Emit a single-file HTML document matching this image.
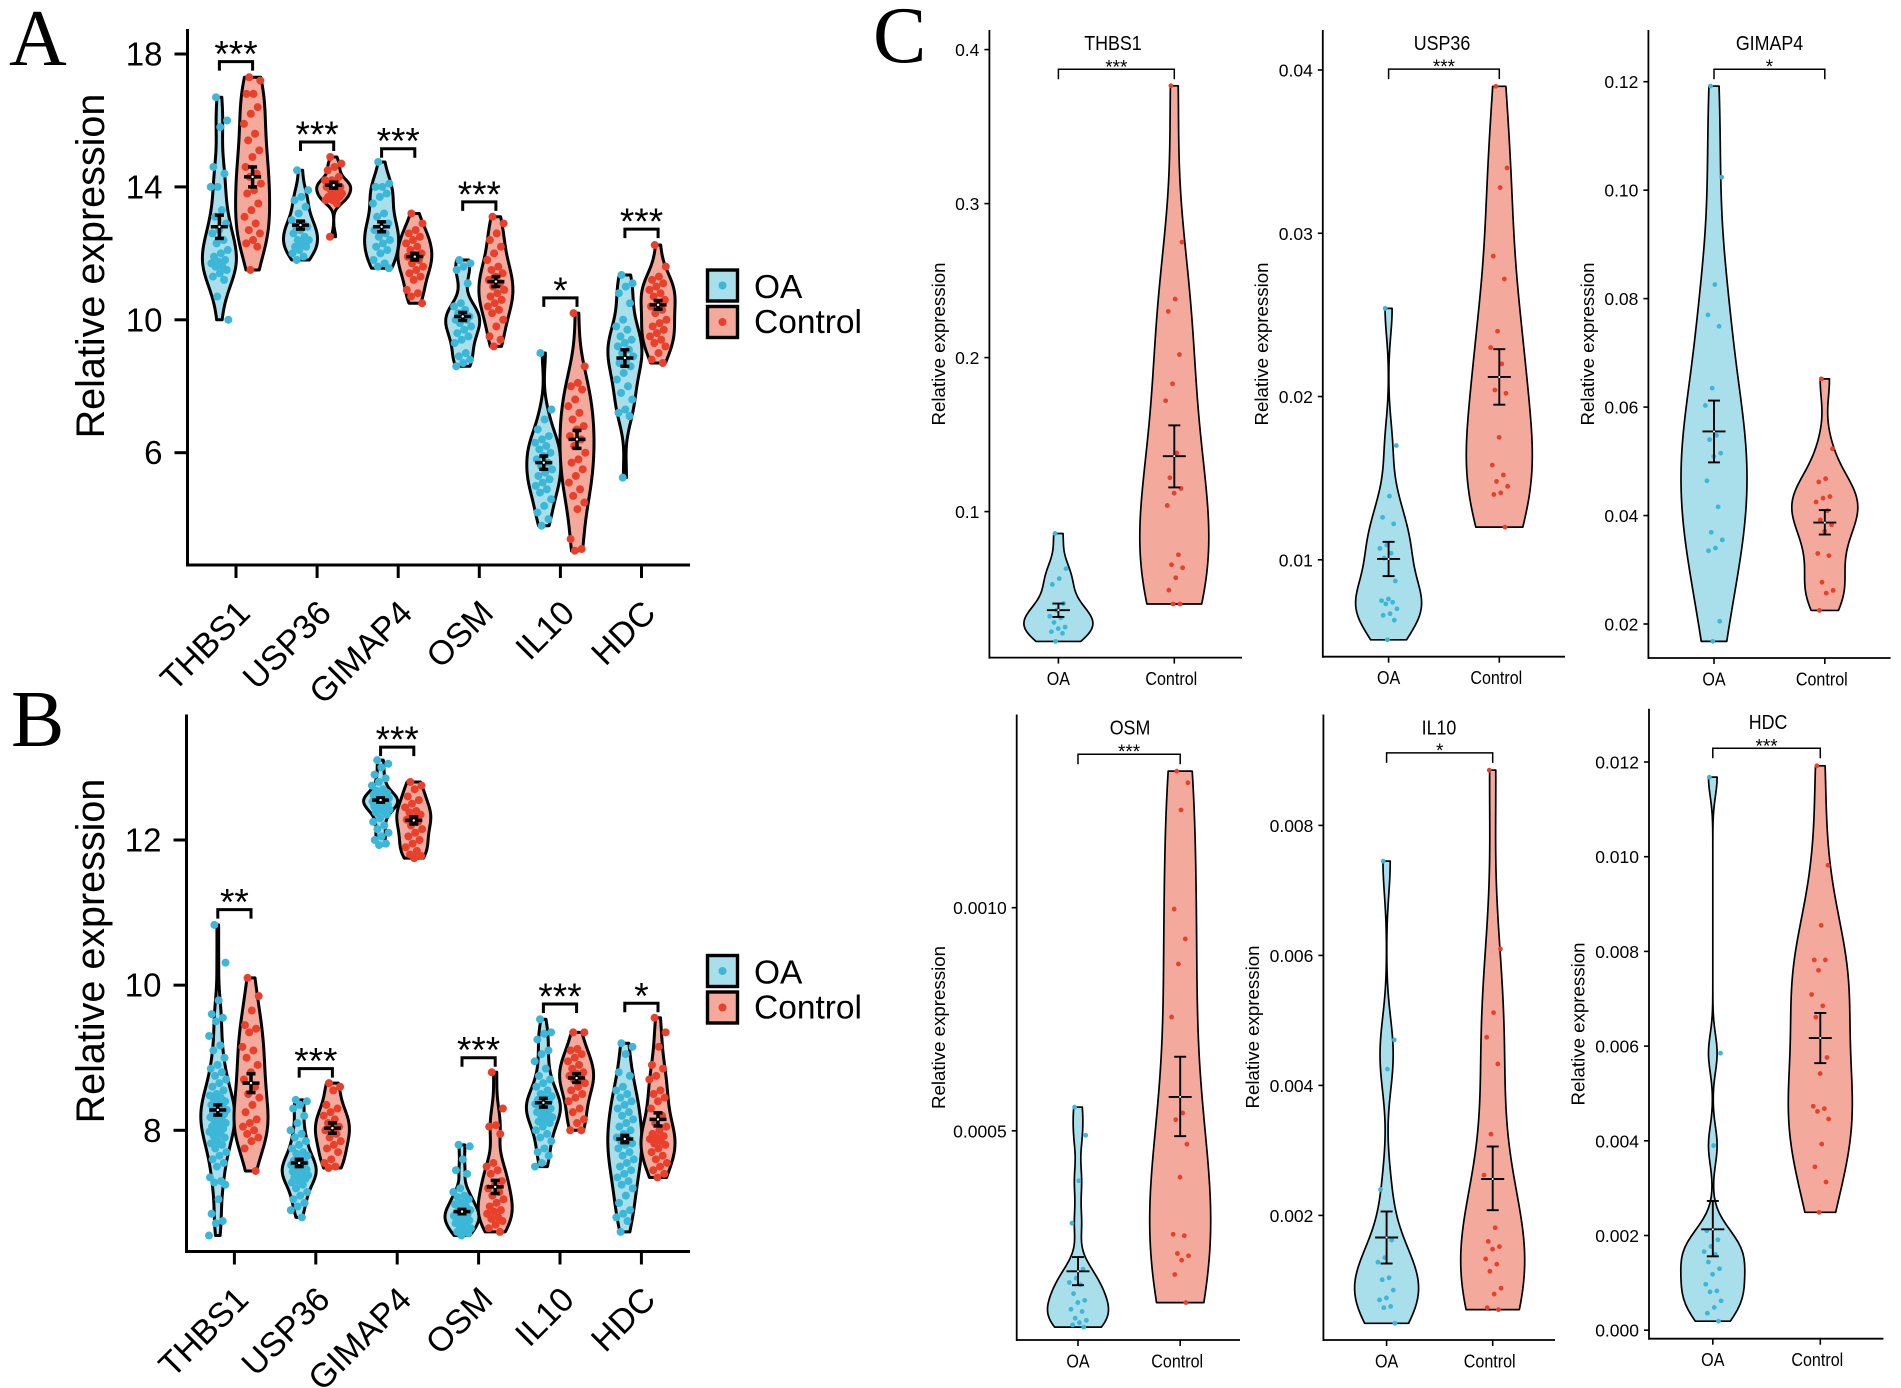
<!DOCTYPE html>
<html lang="en">
<head>
<meta charset="utf-8">
<title>Relative expression violin plots</title>
<style>
html,body{margin:0;padding:0;background:#fff}
svg{display:block;font-family:"Liberation Sans",Arial,sans-serif}
</style>
</head>
<body>
<svg id="figure" xmlns="http://www.w3.org/2000/svg" width="1901" height="1388" viewBox="0 0 1901 1388">
<rect width="1901" height="1388" fill="#fff"/>
<text x="9" y="65" font-family="Liberation Serif" font-size="80">A</text>
<text x="11" y="746" font-family="Liberation Serif" font-size="80">B</text>
<text x="873" y="62" font-family="Liberation Serif" font-size="80">C</text>
</svg>
<script>
// ---------- Shared categories ----------
const genes = ['THBS1','USP36','GIMAP4','OSM','IL10','HDC'];
const groups = ['OA','Control'];

// ---------- Panel A values ----------
const aTicks = [18,14,10,6];
const aOA = [
 [16.7,16.0,15.8,14.6,14.4,14.0,14.0,13.3,13.1,12.9,12.7,12.6,12.4,12.3,12.1,12.0,11.9,11.8,11.75,11.7,11.6,11.6,11.5,11.4,11.3,11.2,10.7,10.0],
 [14.5,13.9,13.7,13.6,13.4,13.2,13.0,12.9,12.8,12.8,12.7,12.6,12.5,12.4,12.4,12.3,12.2,12.2,12.1,12.0,11.9,11.8],
 [14.75,14.1,14.0,14.0,13.8,13.7,13.5,13.2,13.1,12.9,12.8,12.7,12.6,12.5,12.4,12.3,12.2,12.1,12.0,11.8,11.7,11.6,11.55],
 [11.8,11.7,11.6,11.5,11.1,10.5,10.4,10.3,10.2,10.1,10.1,10.0,10.0,9.9,9.8,9.7,9.6,9.5,9.4,9.3,9.0,8.9,8.8,8.7,8.6],
 [9.0,7.3,7.0,6.7,6.5,6.4,6.3,6.2,6.1,6.0,5.9,5.8,5.7,5.6,5.5,5.4,5.3,5.2,5.1,5.0,4.9,4.8,4.6,4.4,4.2,4.0,3.8],
 [11.35,11.1,11.0,10.8,10.5,10.0,9.8,9.7,9.5,9.4,9.3,9.2,9.1,9.0,8.9,8.8,8.7,8.6,8.4,8.2,8.0,7.8,7.6,7.3,7.2,7.1,5.25]
];
const aControl = [
 [17.3,17.2,16.8,16.8,16.4,16.2,15.9,15.6,15.4,15.1,14.9,14.6,14.4,14.3,14.1,13.9,13.8,13.5,13.3,13.1,12.9,12.7,12.6,12.4,12.3,12.2,11.5],
 [14.9,14.7,14.6,14.5,14.3,14.2,14.2,14.1,14.1,14.0,14.0,14.0,13.9,13.9,13.8,13.8,13.7,13.7,13.6,13.6,13.5,12.5],
 [13.2,12.9,12.7,12.6,12.5,12.4,12.3,12.2,12.1,12.0,11.95,11.9,11.8,11.7,11.6,11.5,11.4,11.3,11.2,10.9,10.8,10.7,10.5],
 [13.1,12.9,12.6,12.4,12.2,12.0,11.8,11.6,11.5,11.4,11.3,11.2,11.1,11.0,10.9,10.8,10.7,10.6,10.5,10.4,10.3,10.2,10.0,9.8,9.5,9.4,9.2],
 [10.2,8.6,8.1,8.0,7.9,7.6,7.4,7.2,7.0,6.8,6.7,6.5,6.4,6.2,6.0,5.8,5.7,5.5,5.3,5.1,4.9,4.7,4.5,4.3,3.4,3.1,3.05],
 [12.25,11.6,11.3,11.2,11.1,11.0,10.9,10.8,10.7,10.6,10.5,10.4,10.3,10.2,10.0,9.9,9.8,9.7,9.6,9.5,9.4,9.3,9.2,9.0,8.8,8.7]
];
const aMeanOA = [12.8,12.85,12.8,10.1,5.7,8.85];
const aSeOA = [0.35,0.12,0.15,0.12,0.2,0.25];
const aMeanControl = [14.3,14.05,11.9,11.15,6.4,10.45];
const aSeControl = [0.3,0.09,0.1,0.15,0.27,0.13];
const aBracket = [17.77,15.35,15.15,13.55,10.66,12.73];
const aStars = ['***','***','***','***','*','***'];

// ---------- Panel B values ----------
const bTicks = [12,10,8];
const bOA = [
 [10.83,10.31,9.79,9.6,9.55,9.5,9.3,9.17,9.1,9.0,8.9,8.85,8.8,8.75,8.7,8.65,8.6,8.55,8.5,8.48,8.45,8.42,8.4,8.38,8.35,8.33,8.3,8.28,8.26,8.25,8.22,8.2,8.18,8.15,8.12,8.1,8.08,8.05,8.02,8.0,7.98,7.95,7.92,7.9,7.85,7.82,7.8,7.75,7.7,7.65,7.6,7.55,7.5,7.35,7.3,7.28,7.25,7.05,6.85,6.75,6.72,6.55],
 [8.42,8.4,8.35,8.3,8.2,8.1,8.0,7.95,7.9,7.85,7.8,7.75,7.7,7.68,7.65,7.6,7.58,7.55,7.54,7.52,7.5,7.48,7.46,7.45,7.43,7.42,7.4,7.38,7.36,7.35,7.33,7.3,7.28,7.25,7.2,7.15,7.1,7.05,7.0,6.95,6.9,6.8],
 [13.1,13.05,13.0,12.9,12.85,12.8,12.75,12.7,12.68,12.65,12.63,12.62,12.6,12.59,12.58,12.57,12.56,12.55,12.54,12.53,12.52,12.5,12.49,12.48,12.46,12.45,12.43,12.42,12.4,12.38,12.35,12.3,12.25,12.2,12.15,12.1,12.05,12.0,11.95,11.93],
 [7.8,7.78,7.6,7.45,7.4,7.2,7.15,7.1,7.08,7.05,7.0,6.98,6.95,6.92,6.9,6.88,6.86,6.85,6.83,6.82,6.8,6.78,6.76,6.75,6.72,6.7,6.68,6.65,6.62,6.6,6.58,6.55],
 [9.53,9.35,9.33,9.25,9.1,9.05,8.95,8.85,8.75,8.7,8.65,8.6,8.55,8.5,8.47,8.45,8.42,8.4,8.38,8.36,8.35,8.33,8.3,8.28,8.25,8.22,8.2,8.18,8.15,8.12,8.1,8.05,8.0,7.95,7.9,7.85,7.75,7.7,7.65,7.55,7.5],
 [9.2,9.15,9.05,8.8,8.75,8.6,8.55,8.5,8.45,8.4,8.35,8.3,8.25,8.2,8.15,8.1,8.05,8.0,7.95,7.9,7.88,7.85,7.82,7.8,7.75,7.7,7.65,7.6,7.55,7.5,7.45,7.4,7.35,7.3,7.25,7.2,7.1,7.0,6.9,6.85,6.8,6.75,6.6]
];
const bControl = [
 [10.1,9.85,9.65,9.45,9.4,9.35,9.15,9.1,9.0,8.9,8.8,8.7,8.6,8.5,8.45,8.35,8.25,8.15,8.1,8.05,8.0,7.95,7.9,7.85,7.75,7.44],
 [8.65,8.6,8.55,8.35,8.3,8.25,8.2,8.15,8.1,8.05,8.03,8.0,7.95,7.9,7.85,7.8,7.75,7.7,7.6,7.55,7.5,7.48],
 [12.8,12.75,12.7,12.6,12.55,12.5,12.45,12.4,12.38,12.35,12.3,12.28,12.25,12.2,12.15,12.1,12.05,12.0,11.95,11.9,11.85,11.8,11.78,11.75],
 [8.8,8.3,8.07,8.05,7.95,7.55,7.5,7.45,7.4,7.3,7.25,7.2,7.15,7.1,7.05,7.0,6.95,6.9,6.88,6.85,6.8,6.78,6.75,6.7,6.65,6.6],
 [9.35,9.35,9.12,9.1,9.05,9.0,8.95,8.9,8.85,8.8,8.78,8.75,8.72,8.7,8.65,8.6,8.55,8.5,8.45,8.4,8.3,8.25,8.15,8.1,8.0,8.0],
 [9.55,9.35,9.15,8.9,8.85,8.75,8.7,8.55,8.5,8.45,8.4,8.3,8.2,8.1,8.05,8.0,7.95,7.92,7.9,7.88,7.85,7.82,7.8,7.75,7.7,7.65,7.6,7.55,7.5,7.45,7.4,7.35]
];
const bMeanOA = [8.28,7.55,12.55,6.88,8.38,7.88];
const bSeOA = [0.07,0.05,0.03,0.03,0.06,0.05];
const bMeanControl = [8.65,8.03,12.27,7.22,8.72,8.15];
const bSeControl = [0.13,0.07,0.05,0.09,0.06,0.09];
const bBracket = [11.04,8.85,13.28,9.0,9.74,9.75];
const bStars = ['**','***','***','***','***','*'];

// ---------- Panel C values ----------
const cTicksThbs1 = ['0.4','0.3','0.2','0.1'];
const cOaThbs1 = [0.0858,0.0629,0.0565,0.0527,0.0403,0.036,0.032,0.031,0.028,0.025,0.024,0.022,0.021,0.0157];
const cCtrlThbs1 = [0.3765,0.275,0.238,0.23,0.202,0.183,0.172,0.138,0.122,0.115,0.112,0.104,0.072,0.0655,0.0635,0.057,0.049,0.04,0.04];
const cTicksUsp36 = ['0.04','0.03','0.02','0.01'];
const cOaUsp36 = [0.0254,0.017,0.0139,0.0126,0.0122,0.0109,0.0107,0.0104,0.0101,0.0087,0.0076,0.0075,0.0074,0.0073,0.007,0.0067,0.0066,0.0063,0.0051];
const cCtrlUsp36 = [0.039,0.034,0.0328,0.0286,0.0272,0.024,0.023,0.022,0.0204,0.0202,0.0175,0.0158,0.0152,0.0148,0.0145,0.0141,0.014,0.012];
const cTicksGimap4 = ['0.12','0.10','0.08','0.06','0.04','0.02'];
const cOaGimap4 = [0.1192,0.1024,0.0826,0.077,0.0749,0.0635,0.0603,0.0548,0.054,0.0515,0.0509,0.0464,0.0416,0.0369,0.0355,0.034,0.0335,0.0205,0.0168];
const cCtrlGimap4 = [0.0652,0.0523,0.0468,0.0462,0.0435,0.0432,0.0425,0.0409,0.0392,0.0383,0.0371,0.033,0.0326,0.0277,0.0262,0.0257,0.0225];
const cTicksOsm = ['0.0010','0.0005'];
const cOaOsm = [0.000553,0.00049,0.000388,0.000293,0.00019,0.00017,0.00016,0.000155,0.000135,0.00012,0.000115,0.0001,0.000095,0.00008,0.000075,0.00007,0.000065,0.00006];
const cCtrlOsm = [0.001306,0.00128,0.001219,0.000997,0.00093,0.000874,0.000755,0.00054,0.000525,0.00047,0.000396,0.000268,0.000265,0.000225,0.00022,0.00021,0.000178,0.000115];
const cTicksIl10 = ['0.008','0.006','0.004','0.002'];
const cOaIl10 = [0.00745,0.0047,0.00425,0.0024,0.00162,0.00135,0.00128,0.00104,0.00101,0.00085,0.00073,0.0007,0.0006,0.00058,0.00034];
const cCtrlIl10 = [0.00885,0.0061,0.00512,0.00474,0.00433,0.00325,0.00262,0.00181,0.0016,0.00152,0.00148,0.00133,0.00125,0.00114,0.00088,0.00079,0.00058,0.00055];
const cTicksHdc = ['0.012','0.010','0.008','0.006','0.004','0.002','0.000'];
const cOaHdc = [0.01168,0.00585,0.0039,0.0021,0.00191,0.00177,0.00166,0.0016,0.00144,0.0013,0.00118,0.00097,0.00083,0.00081,0.00062,0.00048,0.00036,0.00019];
const cCtrlHdc = [0.01192,0.00982,0.00855,0.00782,0.00782,0.0076,0.00709,0.00685,0.00661,0.00576,0.00542,0.00473,0.00468,0.00462,0.00446,0.00393,0.00345,0.00313,0.00249];
const cSummaryOaMean = [0.036,0.01005,0.0555,0.000185,0.00166,0.00213];
const cSummaryOaLow = [0.0316,0.009,0.0498,0.000154,0.00126,0.00156];
const cSummaryOaHigh = [0.0403,0.0111,0.0612,0.000217,0.00206,0.00273];
const cSummaryCtrlMean = [0.136,0.0212,0.0387,0.000576,0.00256,0.00617];
const cSummaryCtrlLow = [0.1157,0.0195,0.0365,0.000488,0.00208,0.00564];
const cSummaryCtrlHigh = [0.156,0.0229,0.041,0.000666,0.00306,0.0067];
const cBracket = [0.3872,0.04005,0.1223,0.001344,0.009116,0.01229];
const cStars = ['***','***','*','***','*','***'];

// ---------- Drawing helpers ----------
const NS = 'http://www.w3.org/2000/svg';
const root = document.getElementById('figure');
const OA_FILL = '#a9deeb', CTRL_FILL = '#f4a99d', OA_DOT = '#3cb7d8', CTRL_DOT = '#e8402a';

function add(parent, tag, attrs, name) {
  const el = document.createElementNS(NS, tag);
  for (const k in attrs) el.setAttribute(k, attrs[k]);
  
  
  parent.appendChild(el);
  return el;
}
function line(p, x1, y1, x2, y2, w, name) {
  return add(p, 'line', {x1, y1, x2, y2, stroke: '#000', 'stroke-width': w}, name);
}
function label(p, x, y, str, size, anchor, name, tf) {
  const el = add(p, 'text', {'font-size': size, 'text-anchor': anchor, transform: `translate(${x} ${y}) ${tf || ''}`}, name);
  el.textContent = str;
  return el;
}
function linear(v0, p0, v1, p1) {
  return v => p0 + (v - v0) * (p1 - p0) / (v1 - v0);
}
function quantile(sorted, q) {
  const h = (sorted.length - 1) * q, i = Math.floor(h), j = Math.min(i + 1, sorted.length - 1);
  return sorted[i] + (h - i) * (sorted[j] - sorted[i]);
}
function bandwidth(vals) {
  const s = vals.slice().sort((a, b) => a - b);
  const m = s.reduce((a, b) => a + b, 0) / s.length;
  const sd = Math.sqrt(s.reduce((a, b) => a + (b - m) * (b - m), 0) / (s.length - 1));
  const iqr = quantile(s, 0.75) - quantile(s, 0.25);
  const lo = Math.min(sd, iqr / 1.34) || sd;
  return 0.9 * lo * Math.pow(s.length, -0.2);
}
function violinPath(vals, cx, yScale, halfWidth) {
  const min = Math.min(...vals), max = Math.max(...vals), bw = bandwidth(vals), steps = 96;
  const dens = [];
  for (let i = 0; i <= steps; i++) {
    const v = min + (max - min) * i / steps;
    let d = 0;
    vals.forEach(o => { const z = (v - o) / bw; d += Math.exp(-0.5 * z * z); });
    dens.push([v, d]);
  }
  const top = Math.max(...dens.map(d => d[1]));
  const right = dens.map(d => `${(cx + d[1] / top * halfWidth).toFixed(2)},${yScale(d[0]).toFixed(2)}`);
  const left = dens.map(d => `${(cx - d[1] / top * halfWidth).toFixed(2)},${yScale(d[0]).toFixed(2)}`).reverse();
  return 'M' + right.concat(left).join('L') + 'Z';
}
function jitterOf(i, spread) {
  const f = (i * 0.6180339887 + 0.31) % 1;
  return (f - 0.5) * 2 * spread;
}
function drawViolin(p, vals, cx, yScale, style, fill, dot, key) {
  add(p, 'path', {d: violinPath(vals, cx, yScale, style.half), fill, stroke: '#000', 'stroke-width': style.stroke, 'stroke-linejoin': 'round'}, 'violin-' + key);
  vals.forEach((v, i) => {
    add(p, 'circle', {cx: cx + jitterOf(i, style.jitter), cy: yScale(v), r: style.dot, fill: dot}, 'point-' + key);
  });
}
function drawSummary(p, cx, yScale, mean, low, high, style, key) {
  line(p, cx, yScale(low), cx, yScale(high), style.err, 'error-bar-' + key);
  line(p, cx - style.cap, yScale(low), cx + style.cap, yScale(low), style.err, 'error-cap-low-' + key);
  line(p, cx - style.cap, yScale(high), cx + style.cap, yScale(high), style.err, 'error-cap-high-' + key);
  line(p, cx - style.bar, yScale(mean), cx + style.bar, yScale(mean), style.err, 'mean-bar-' + key);
  add(p, 'circle', {cx, cy: yScale(mean), r: style.hole, fill: '#fff'}, 'mean-dot-' + key);
}
function drawBracket(p, x1, x2, y, leg, w, stars, size, gap, key) {
  add(p, 'path', {d: `M${x1},${y + leg}V${y}H${x2}V${y + leg}`, fill: 'none', stroke: '#000', 'stroke-width': w}, 'significance-bracket-' + key);
  label(p, (x1 + x2) / 2, y + gap, stars, size, 'middle', 'significance-label-' + key);
}

// ---------- Panels A and B ----------
const bigStyle = {half: 17, stroke: 3, dot: 4, jitter: 9, err: 3.5, cap: 4.5, bar: 8.5, hole: 1.2};
function drawBig(cfg) {
  const g = add(root, 'g', {}, cfg.name);
  const y = linear(cfg.v0, cfg.p0, cfg.v1, cfg.p1);
  const x = linear(0, cfg.x0, 1, cfg.x0 + cfg.step);
  cfg.oa.forEach((vals, i) => {
    const cx = x(i), lo = cx - 16.6, hi = cx + 16.6, key = genes[i].toLowerCase();
    drawViolin(g, vals, lo, y, bigStyle, OA_FILL, OA_DOT, 'oa-' + key);
    drawViolin(g, cfg.ctrl[i], hi, y, bigStyle, CTRL_FILL, CTRL_DOT, 'control-' + key);
    drawSummary(g, lo, y, cfg.meanOA[i], cfg.meanOA[i] - cfg.seOA[i], cfg.meanOA[i] + cfg.seOA[i], bigStyle, 'oa-' + key);
    drawSummary(g, hi, y, cfg.meanCtrl[i], cfg.meanCtrl[i] - cfg.seCtrl[i], cfg.meanCtrl[i] + cfg.seCtrl[i], bigStyle, 'control-' + key);
    drawBracket(g, lo, hi, y(cfg.bracket[i]), 9, 3, cfg.stars[i], 37, 5, key);
    line(g, cx, cfg.bottom, cx, cfg.bottom + 13, 3, 'x-tick-' + key);
    label(g, cx + 16, cfg.bottom + 50, genes[i], 34, 'end', 'x-tick-label-' + key, 'rotate(-45)');
  });
  line(g, cfg.axisX, cfg.top, cfg.axisX, cfg.bottom + 1.5, 3, 'y-axis');
  line(g, cfg.axisX, cfg.bottom, 690, cfg.bottom, 3, 'x-axis');
  cfg.ticks.forEach(t => {
    line(g, cfg.axisX - 13, y(t), cfg.axisX, y(t), 3, 'y-tick-' + t);
    label(g, cfg.axisX - 25, y(t) + 11.5, String(t), 33, 'end', 'y-tick-label-' + t);
  });
  label(g, 104, cfg.titleY, 'Relative expression', 39.5, 'middle', 'y-axis-title', 'rotate(-90)');
  const leg = add(g, 'g', {}, 'legend');
  groups.forEach((name, i) => {
    const ky = cfg.legendY + i * 36.5, fill = i ? CTRL_FILL : OA_FILL, dot = i ? CTRL_DOT : OA_DOT;
    add(leg, 'rect', {x: 707.5, y: ky, width: 30, height: 31, fill, stroke: '#000', 'stroke-width': 3.4}, 'legend-swatch-' + name.toLowerCase());
    add(leg, 'circle', {cx: 722.5, cy: ky + 15.5, r: 4, fill: dot}, 'legend-dot-' + name.toLowerCase());
    label(leg, 754, ky + 28 - i * 1.5, name, 33.5, 'start', 'legend-label-' + name.toLowerCase());
  });
}
drawBig({name: 'panel-a', oa: aOA, ctrl: aControl, meanOA: aMeanOA, seOA: aSeOA, meanCtrl: aMeanControl, seCtrl: aSeControl,
  bracket: aBracket, stars: aStars, ticks: aTicks, v0: 18, p0: 54, v1: 6, p1: 452.7, x0: 236, step: 81.1, axisX: 187.5, top: 29, bottom: 565, titleY: 266, legendY: 270});
drawBig({name: 'panel-b', oa: bOA, ctrl: bControl, meanOA: bMeanOA, seOA: bSeOA, meanCtrl: bMeanControl, seCtrl: bSeControl,
  bracket: bBracket, stars: bStars, ticks: bTicks, v0: 12, p0: 840, v1: 8, p1: 1130.3, x0: 234.4, step: 81.4, axisX: 186.5, top: 714.5, bottom: 1251.5, titleY: 951, legendY: 955.5});

// ---------- Panel C ----------
const smallPanels = [
 {gene: 0, ticks: cTicksThbs1, oa: cOaThbs1, ctrl: cCtrlThbs1, v0: 0.4, p0: 49.6, v1: 0.1, p1: 511.6, axisX: 989.4, right: 1242, top: 30, bottom: 657.6, xa: 1058.4, xb: 1174.3, half: 34.5, tx: 939, ty: 344, titleX: 1113, titleY: 50},
 {gene: 1, ticks: cTicksUsp36, oa: cOaUsp36, ctrl: cCtrlUsp36, v0: 0.04, p0: 70, v1: 0.01, p1: 559.8, axisX: 1322.8, right: 1565, top: 30, bottom: 656.7, xa: 1388.6, xb: 1499.3, half: 33, tx: 1262, ty: 344, titleX: 1442, titleY: 50},
 {gene: 2, ticks: cTicksGimap4, oa: cOaGimap4, ctrl: cCtrlGimap4, v0: 0.12, p0: 81.7, v1: 0.02, p1: 624, axisX: 1648.4, right: 1890.6, top: 30, bottom: 658, xa: 1714, xb: 1824.8, half: 33, tx: 1588, ty: 344, titleX: 1769.5, titleY: 50},
 {gene: 3, ticks: cTicksOsm, oa: cOaOsm, ctrl: cCtrlOsm, v0: 0.001, p0: 907.7, v1: 0.0005, p1: 1130.8, axisX: 1016.7, right: 1240, top: 714.5, bottom: 1340, xa: 1078, xb: 1180.2, half: 30.5, tx: 939, ty: 1027.5, titleX: 1130, titleY: 734.5},
 {gene: 4, ticks: cTicksIl10, oa: cOaIl10, ctrl: cCtrlIl10, v0: 0.008, p0: 825.4, v1: 0.002, p1: 1215.4, axisX: 1323.4, right: 1555, top: 714.5, bottom: 1340, xa: 1386.6, xb: 1492.7, half: 32, tx: 1253, ty: 1027, titleX: 1439, titleY: 734.5},
 {gene: 5, ticks: cTicksHdc, oa: cOaHdc, ctrl: cCtrlHdc, v0: 0.012, p0: 762, v1: 0, p1: 1330.2, axisX: 1649, right: 1883.4, top: 708.7, bottom: 1338.7, xa: 1712.8, xb: 1820.3, half: 32, tx: 1578.7, ty: 1024, titleX: 1768, titleY: 729}
];
const squeeze = 'scale(0.87,1)';
smallPanels.forEach(c => {
  const i = c.gene, key = genes[i].toLowerCase();
  const g = add(root, 'g', {}, 'panel-c-' + key);
  const y = linear(c.v0, c.p0, c.v1, c.p1);
  const style = {half: c.half, stroke: 1.7, dot: 2.4, jitter: 9, err: 1.9, cap: 6, bar: 11.5, hole: 1};
  drawViolin(g, c.oa, c.xa, y, style, OA_FILL, OA_DOT, 'oa-' + key);
  drawViolin(g, c.ctrl, c.xb, y, style, CTRL_FILL, CTRL_DOT, 'control-' + key);
  drawSummary(g, c.xa, y, cSummaryOaMean[i], cSummaryOaLow[i], cSummaryOaHigh[i], style, 'oa-' + key);
  drawSummary(g, c.xb, y, cSummaryCtrlMean[i], cSummaryCtrlLow[i], cSummaryCtrlHigh[i], style, 'control-' + key);
  drawBracket(g, c.xa, c.xb, y(cBracket[i]), 10, 1.5, cStars[i], 19, 4, key);
  line(g, c.axisX, c.top, c.axisX, c.bottom + 1, 1.8, 'y-axis');
  line(g, c.axisX, c.bottom, c.right, c.bottom, 1.8, 'x-axis');
  c.ticks.forEach(t => {
    const py = y(parseFloat(t));
    line(g, c.axisX - 5, py, c.axisX, py, 1.6, 'y-tick-' + t);
    label(g, c.axisX - 10, py + 6.5, t, 17.5, 'end', 'y-tick-label-' + t);
  });
  [c.xa, c.xb].forEach((cx, k) => {
    line(g, cx, c.bottom, cx, c.bottom + 6, 1.6, 'x-tick-' + groups[k].toLowerCase());
    label(g, cx - (k ? 3 : 0), c.bottom + 27.5, groups[k], 18.5, 'middle', 'x-tick-label-' + groups[k].toLowerCase(), squeeze);
  });
  label(g, c.tx + 6, c.ty, 'Relative expression', 18.7, 'middle', 'y-axis-title', 'rotate(-90)');
  label(g, c.titleX, c.titleY, genes[i], 20.5, 'middle', 'panel-title', squeeze);
});
</script>
</body>
</html>
